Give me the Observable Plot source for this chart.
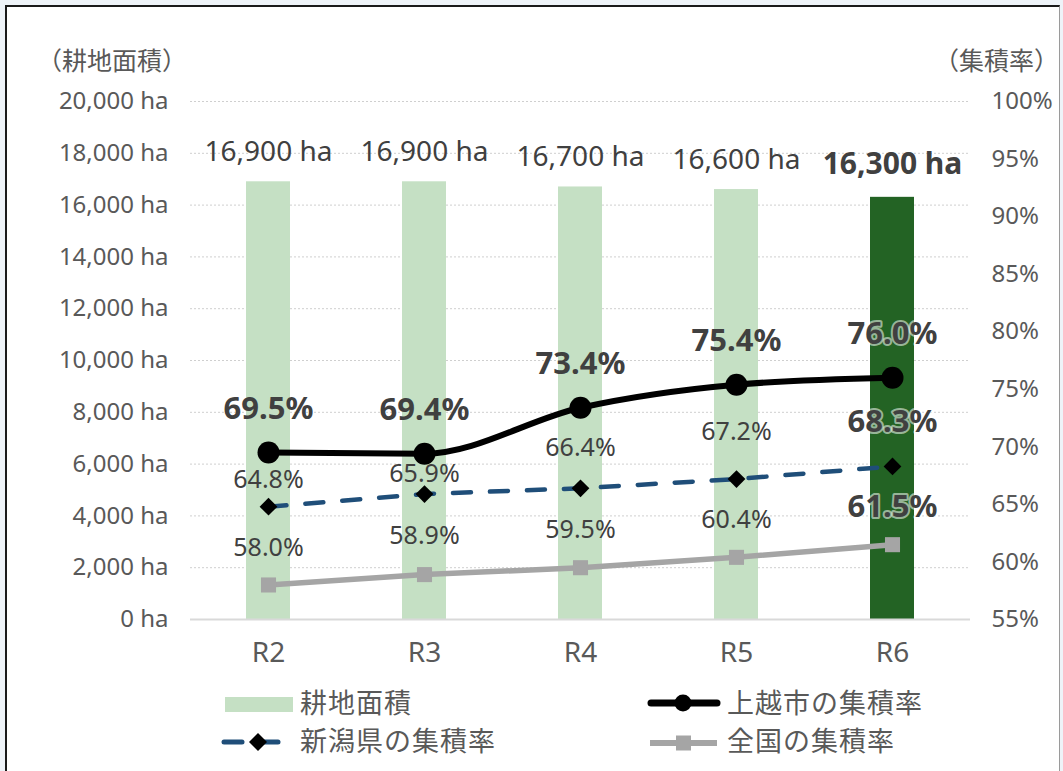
<!DOCTYPE html>
<html>
<head>
<meta charset="utf-8">
<script src="https://cdn.jsdelivr.net/npm/d3@7"></script>
<script src="https://cdn.jsdelivr.net/npm/@observablehq/plot@0.6"></script>
<style>
  html, body { margin: 0; padding: 0; background: #EEF3F8; }
  #root { position: relative; width: 1063px; height: 771px; overflow: hidden; }
  #frame { position: absolute; left: 5px; top: 5px; width: 1052px; height: 800px; background: #fff;
           border-left: 2px solid #1a1a1a; border-top: 2px solid #1a1a1a; border-right: 1px solid #9a9a9a; }
  #chart { position: absolute; left: 0; top: 0; }
  .ttl { position: absolute; font-family: "Noto Sans CJK JP", sans-serif; font-size: 25px; line-height: 25px; color: #595959; white-space: nowrap; }
  .lg-text { position: absolute; font-family: "Noto Sans CJK JP", sans-serif; font-size: 27px; line-height: 27px; color: #595959; letter-spacing: 1px; white-space: nowrap; }
  .lg-sym { position: absolute; }
</style>
</head>
<body>
<div id="root">
  <div id="frame"></div>
  <div id="chart"></div>
  <div class="ttl" id="tl" style="left:37px; top:47px;">（耕地面積）</div>
  <div class="ttl" id="tr" style="left:934px; top:47px;">（集積率）</div>
  <div id="legend"></div>
</div>
<script>
// ---- data ----
const years = ["R2", "R3", "R4", "R5", "R6"];
const farmland = [16900, 16900, 16700, 16600, 16300];      // 耕地面積 (ha)
const joetsuRate = [69.5, 69.4, 73.4, 75.4, 76.0];         // 上越市の集積率 (%)
const niigataRate = [64.8, 65.9, 66.4, 67.2, 68.3];        // 新潟県の集積率 (%)
const nationalRate = [58.0, 58.9, 59.5, 60.4, 61.5];       // 全国の集積率 (%)
const areaTicks = [0, 2000, 4000, 6000, 8000, 10000, 12000, 14000, 16000, 18000, 20000];
const rateTicks = [55, 60, 65, 70, 75, 80, 85, 90, 95, 100];
const highlightYear = "R6";
const seriesNames = ["耕地面積", "上越市の集積率", "新潟県の集積率", "全国の集積率"];

// ---- dual axis mapping (rate -> area domain) ----
const AREA_MAX = 20000, RATE_MIN = 55, RATE_MAX = 100;
const toArea = r => (r - RATE_MIN) / (RATE_MAX - RATE_MIN) * AREA_MAX;
const toRate = a => a / AREA_MAX * (RATE_MAX - RATE_MIN) + RATE_MIN;

const rows = years.map((year, i) => ({
  year, area: farmland[i], joetsu: joetsuRate[i], niigata: niigataRate[i], national: nationalRate[i],
  hi: year === highlightYear
}));
const normal = rows.filter(d => !d.hi);
const hi = rows.filter(d => d.hi);

const fmt = d3.format(",");
const pct = v => v.toFixed(1) + "%";
const FONT = "'Noto Sans', 'Noto Sans CJK JP', sans-serif";
const TXT = "#404040";
const halo = { stroke: "#ffffff", strokeOpacity: 0.55, strokeWidth: 4 };

const lab = (data, opts) => Plot.text(data, { x: "year", lineAnchor: "middle", fill: TXT, fontFamily: FONT, ...opts });

const chart = Plot.plot({
  width: 1063, height: 680,
  marginLeft: 190, marginRight: 93, marginTop: 101, marginBottom: 61,
  style: { background: "transparent", fontFamily: FONT, color: "#595959", overflow: "visible" },
  x: { type: "band", domain: years, padding: 0 },
  y: { domain: [0, AREA_MAX] },
  marks: [
    Plot.ruleY(areaTicks.filter(t => t > 0), { stroke: "#CFCFCF", strokeDasharray: "2,2", strokeWidth: 1 }),
    Plot.barY(rows, { x: "year", y: "area", fill: d => d.hi ? "#236324" : "#C5E0C4", insetLeft: 56, insetRight: 56 }),
    Plot.ruleY([0], { stroke: "#D9D9D9", strokeWidth: 2 }),
    Plot.axisY({ anchor: "left", ticks: areaTicks, tickSize: 0, tickPadding: 22, label: null,
                 tickFormat: d => fmt(d) + " ha", fontSize: 24 }),
    Plot.axisY({ anchor: "right", ticks: rateTicks.map(toArea), tickSize: 0, tickPadding: 21, label: null,
                 tickFormat: v => Math.round(toRate(v)) + "%", fontSize: 24 }),
    Plot.axisX({ tickSize: 0, tickPadding: 23, label: null, fontSize: 28 }),

    // 全国
    Plot.line(rows, { x: "year", y: d => toArea(d.national), stroke: "#A5A5A5", strokeWidth: 5.5 }),
    Plot.dot(rows, { x: "year", y: d => toArea(d.national), symbol: "square", r: 8.5, fill: "#A5A5A5" }),
    // 新潟県
    Plot.line(rows, { x: "year", y: d => toArea(d.niigata), stroke: "#1F4E79", strokeWidth: 4.5,
                      strokeDasharray: "18,19", strokeLinecap: "round" }),
    Plot.dot(rows, { x: "year", y: d => toArea(d.niigata), symbol: "diamond2", r: 8, fill: "#000" }),
    // 上越市
    Plot.line(rows, { x: "year", y: d => toArea(d.joetsu), stroke: "#000", strokeWidth: 6, curve: "monotone-x" }),
    Plot.dot(rows, { x: "year", y: d => toArea(d.joetsu), r: 11, fill: "#000" }),

    // bar labels
    lab(normal, { y: "area", text: d => fmt(d.area) + " ha", dy: -30, fontSize: 28 }),
    lab(hi, { y: "area", text: d => fmt(d.area) + " ha", dy: -33, fontSize: 30, fontWeight: "bold" }),
    // 上越市 labels
    lab(normal, { y: d => toArea(d.joetsu), text: d => pct(d.joetsu), dy: -44, fontSize: 31, fontWeight: "bold" }),
    lab(hi, { y: d => toArea(d.joetsu), text: d => pct(d.joetsu), dy: -44, fontSize: 31, fontWeight: "bold", ...halo }),
    // 新潟県 labels (between 上越市 and 新潟県)
    lab(normal, { y: d => toArea((d.joetsu + d.niigata) / 2), text: d => pct(d.niigata), fontSize: 25 }),
    lab(hi, { y: d => toArea((d.joetsu + d.niigata) / 2), text: d => pct(d.niigata), fontSize: 31, fontWeight: "bold", ...halo }),
    // 全国 labels (between 新潟県 and 全国)
    lab(normal, { y: d => toArea((d.niigata + d.national) / 2), text: d => pct(d.national), dy: 2, fontSize: 25 }),
    lab(hi, { y: d => toArea((d.niigata + d.national) / 2), text: d => pct(d.national), dy: 2, fontSize: 31, fontWeight: "bold", ...halo })
  ]
});
document.getElementById("chart").appendChild(chart);

// ---- legend ----
const legend = document.getElementById("legend");
const items = [
  { name: seriesNames[0], sx: 225, tx: 300, cy: 702, sym: `<svg width="70" height="20"><rect x="0" y="2" width="68" height="15" fill="#C5E0C4"/></svg>`, sy: 695 },
  { name: seriesNames[1], sx: 645, tx: 727, cy: 702, sym: `<svg width="80" height="24"><line x1="6" y1="12" x2="72" y2="12" stroke="#000" stroke-width="7" stroke-linecap="round"/><circle cx="38" cy="12" r="8.5" fill="#000"/></svg>`, sy: 691 },
  { name: seriesNames[2], sx: 220, tx: 300, cy: 740, sym: `<svg width="64" height="24"><line x1="4" y1="12" x2="22" y2="12" stroke="#1F4E79" stroke-width="5" stroke-linecap="round"/><line x1="44" y1="12" x2="58" y2="12" stroke="#1F4E79" stroke-width="5" stroke-linecap="round"/><path d="M38,3 L47,12 L38,21 L29,12 Z" fill="#000"/></svg>`, sy: 730 },
  { name: seriesNames[3], sx: 648, tx: 727, cy: 740, sym: `<svg width="72" height="24"><line x1="2" y1="12" x2="69" y2="12" stroke="#A5A5A5" stroke-width="6"/><rect x="28" y="4.5" width="15" height="15" fill="#A5A5A5"/></svg>`, sy: 731 }
];
for (const it of items) {
  const s = document.createElement("div");
  s.className = "lg-sym"; s.style.left = it.sx + "px"; s.style.top = it.sy + "px"; s.innerHTML = it.sym;
  legend.appendChild(s);
  const t = document.createElement("div");
  t.className = "lg-text"; t.style.left = it.tx + "px"; t.style.top = (it.cy - 14) + "px"; t.textContent = it.name;
  legend.appendChild(t);
}
</script>
</body>
</html>
